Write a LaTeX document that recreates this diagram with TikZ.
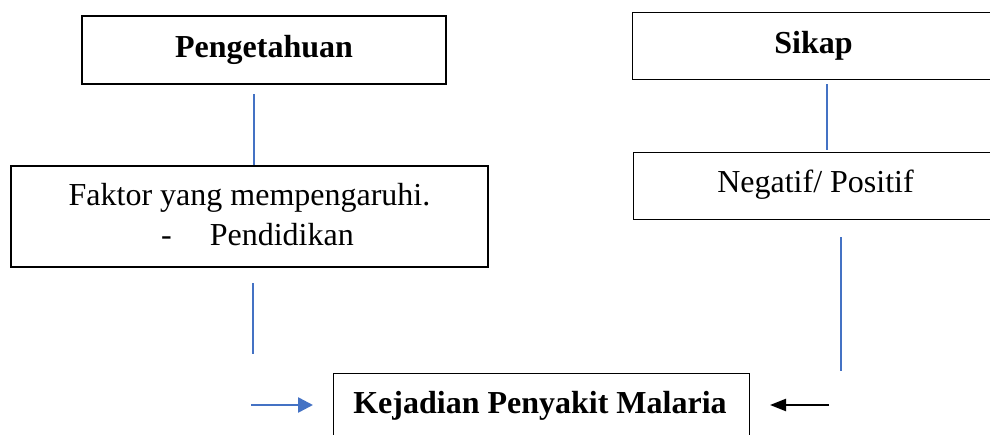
\documentclass[tikz,border=0pt]{standalone}
\usepackage{fontspec}
\setmainfont{Liberation Serif}
\usetikzlibrary{arrows.meta}
\definecolor{lineblue}{RGB}{68,114,196}
\tikzset{
  box/.style={draw=black, line width=1.4pt, rectangle, inner sep=0pt},
  txt/.style={anchor=base, inner sep=0pt, font=\fontsize{32}{38}\selectfont},
  btxt/.style={txt, font=\fontsize{32}{38}\selectfont\bfseries},
  conn/.style={draw=lineblue, line width=1.8pt},
  bluearrow/.style={draw=lineblue, line width=2.6pt, -{Triangle[length=15pt,width=15pt]}},
  blackarrow/.style={draw=black, line width=2.2pt, -{Triangle[length=16pt,width=12pt]}}
}
\begin{document}
\begin{tikzpicture}[x=1pt,y=-1pt]
\useasboundingbox (0,0) rectangle (990,434);
\clip (0,0) rectangle (990,434);
% boxes
\node[box, minimum width=364pt, minimum height=68pt] (peng) at (264,50) {};
\node[btxt] (pengt) at (264,57) {Pengetahuan};
\node[box, minimum width=477pt, minimum height=101pt] (faktor) at (249.5,216.5) {};
\node[txt] (faktort1) at (249.5,205) {Faktor yang mempengaruhi.};
\node[txt] (faktort2) at (249.5,245) {\hspace*{16pt}-\hspace*{38pt}Pendidikan};
\node[box, minimum width=500pt, minimum height=67pt, anchor=north west] (sikap) at (632,12) {};
\node[btxt] (sikapt) at (813.5,53) {Sikap};
\node[box, minimum width=500pt, minimum height=67pt, anchor=north west] (neg) at (633,152) {};
\node[txt] (negt) at (815.5,192) {Negatif/ Positif};
\node[box, minimum width=416pt, minimum height=120pt, anchor=north west] (kej) at (333,373) {};
\node[btxt] (kejt) at (540,413) {Kejadian Penyakit Malaria};
% connector coordinates
\coordinate (a1) at (254,94);
\coordinate (a2) at (254,165);
\coordinate (b1) at (253,283);
\coordinate (b2) at (253,354);
\coordinate (c1) at (827,84);
\coordinate (c2) at (827,150);
\coordinate (d1) at (841,237);
\coordinate (d2) at (841,371);
\coordinate (e1) at (251,405);
\coordinate (e2) at (313,405);
\coordinate (f1) at (829,405);
\coordinate (f2) at (770,405);
\draw[conn] (a1) -- (a2);
\draw[conn] (b1) -- (b2);
\draw[conn] (c1) -- (c2);
\draw[conn] (d1) -- (d2);
\draw[bluearrow] (e1) -- (e2);
\draw[blackarrow] (f1) -- (f2);
\end{tikzpicture}
\end{document}
